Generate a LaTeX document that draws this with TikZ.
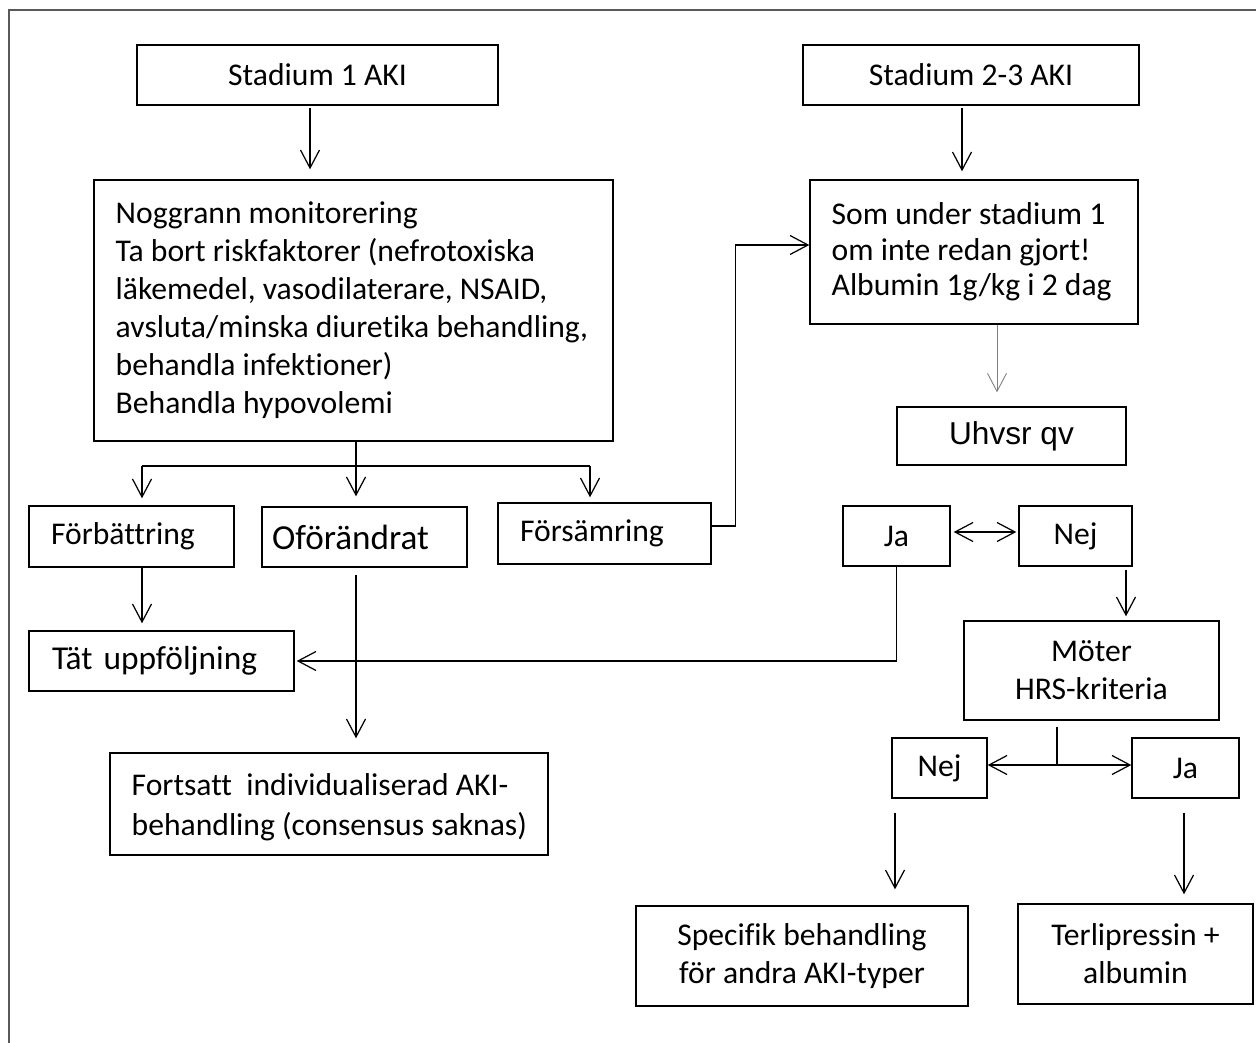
\documentclass[tikz,border=0pt]{standalone}
\usepackage{fontspec}
\setmainfont{Carlito}[Ligatures=NoCommon]
\newfontfamily\arialfont{Liberation Sans}
\usetikzlibrary{arrows.meta,positioning,calc}
\definecolor{framegray}{HTML}{595959}
\definecolor{thingray}{HTML}{7F7F7F}

\begin{document}
\begin{tikzpicture}[x=0.02cm, y=-0.02cm, font=\fontsize{18}{21.6}\selectfont, >={Straight Barb[length=0.36cm,width=0.38cm]}]
  \tikzstyle{box}=[draw,line width=0.8pt,inner sep=0pt,align=center]
  \tikzstyle{txt}=[inner sep=0pt,align=left,anchor=west]
  \tikzstyle{line}=[line width=0.7pt]
  \tikzstyle{arr}=[line,->]
  \tikzstyle{dbl}=[line,<->]
  \useasboundingbox (0,0) rectangle (1256,1043);
  \draw[framegray,line width=1.2pt] (9,1043) -- (9,10) -- (1256,10);
  % top row
  \node[box,minimum width=7.22cm,minimum height=1.2cm] (s1) at (317.5,75) {Stadium 1 AKI};
  \node[box,minimum width=6.72cm,minimum height=1.2cm] (s23) at (971,75) {Stadium 2-3 AKI};
  \node[box,minimum width=10.38cm,minimum height=5.22cm] (mon) at (353.5,310.5) {};
  \node[txt] (montext) at ([xshift=0.44cm]mon.west) {Noggrann monitorering\\Ta bort riskfaktorer (nefrotoxiska\\läkemedel, vasodilaterare, NSAID,\\avsluta/minska diuretika behandling,\\behandla infektioner)\\Behandla hypovolemi};
  \node[box,minimum width=6.56cm,minimum height=2.88cm] (som) at (974,252) {};
  \node[txt,font=\fontsize{18}{20.2}\selectfont] (somtext) at ([xshift=0.44cm]som.west) {Som under stadium 1\\om inte redan gjort!\\Albumin 1g/kg i 2 dag};
  \node[box,font=\arialfont\fontsize{18}{21.6}\selectfont,minimum width=4.58cm,minimum height=1.16cm] (uh) at (1011.5,436) {Uhvsr qv};
  % outcomes
  \node[box,align=left,inner xsep=0.44cm,text width=3.22cm,minimum height=1.22cm] (forb) at (131.5,536.5) {Förbättring};
  \node[box,align=left,inner xsep=0.2cm,text width=3.7cm,minimum height=1.2cm,font=\fontsize{20}{24}\selectfont] (ofor) at (364.5,537) {Oförändrat};
  \node[box,align=left,inner xsep=0.44cm,text width=3.38cm,minimum height=1.22cm] (fors) at (604.5,533.5) {Försämring};
  \node[box,minimum width=2.14cm,minimum height=1.2cm] (ja1) at (896.5,536) {Ja};
  \node[box,minimum width=2.26cm,minimum height=1.2cm] (nej1) at (1075.5,536) {Nej};
  \node[box,align=left,inner xsep=0.46cm,text width=4.38cm,minimum height=1.2cm,font=\fontsize{19}{23}\selectfont] (tat) at (161.5,661) {Tät uppföljning};
  \node[box,minimum width=5.1cm,minimum height=1.98cm] (hrs) at (1091.5,670.5) {Möter\\HRS-kriteria};
  \node[box,minimum width=8.76cm,minimum height=2.04cm] (fort) at (329,804) {};
  \node[txt,font=\fontsize{18}{22.7}\selectfont] (forttext) at ([xshift=0.44cm,yshift=-0.06cm]fort.west) {Fortsatt~ individualiserad AKI-\\behandling (consensus saknas)};
  \node[box,minimum width=1.9cm,minimum height=1.2cm] (nej2) at (939.5,768) {Nej};
  \node[box,minimum width=2.14cm,minimum height=1.2cm] (ja2) at (1185.5,768) {Ja};
  \node[box,minimum width=6.64cm,minimum height=2cm] (spec) at (802,956) {Specifik behandling\\för andra AKI-typer};
  \node[box,minimum width=4.7cm,minimum height=2cm] (terl) at (1135.5,954) {Terlipressin +\\albumin};
  % connectors
  \draw[arr,shorten <=0.04cm,shorten >=0.2cm] ([xshift=-0.15cm]s1.south) -- ([xshift=-0.15cm]s1.south |- mon.north);
  \draw[arr,shorten <=0.04cm,shorten >=0.16cm] ([xshift=-0.18cm]s23.south) -- ([xshift=-0.18cm]s23.south |- som.north);
  \draw[arr,thingray,line width=0.5pt,shorten >=0.28cm] ([xshift=0.46cm]som.south) -- ([xshift=0.46cm]som.south |- uh.north);
  \coordinate (br) at (356,466);
  \draw[arr,shorten >=0.2cm] ([xshift=0.05cm]mon.south) -- ([xshift=0.05cm]mon.south |- ofor.north);
  \draw[line] ([xshift=0.21cm]forb.north |- br) -- ([xshift=-0.29cm]fors.north |- br);
  \draw[arr,shorten >=0.14cm] ([xshift=0.21cm]forb.north |- br) -- ([xshift=0.21cm]forb.north);
  \draw[arr,shorten >=0.1cm] ([xshift=-0.29cm]fors.north |- br) -- ([xshift=-0.29cm]fors.north);
  \draw[arr] ([yshift=0.15cm]fors.east) -- ++(24,0) |- ([yshift=0.14cm]som.west);
  \draw[dbl,shorten <=0.06cm,shorten >=0.04cm] ([yshift=0.08cm]ja1.east) -- ([yshift=0.08cm]nej1.west);
  \draw[arr,shorten <=0.06cm,shorten >=0.08cm] ([xshift=1.01cm]nej1.south) -- ([xshift=1.01cm]nej1.south |- hrs.north);
  \draw[arr,shorten >=0.04cm] (ja1.south) |- (tat.east);
  \draw[arr,shorten >=0.14cm] ([xshift=0.21cm]forb.south) -- ([xshift=0.21cm]forb.south |- tat.north);
  \draw[arr,shorten <=0.14cm,shorten >=0.28cm] ([xshift=-0.17cm]ofor.south) -- ([xshift=-0.17cm]ofor.south |- fort.north);
  \coordinate (split) at ([yshift=0.06cm]nej2.east);
  \draw[line,shorten <=0.12cm] ([xshift=-0.69cm]hrs.south) -- ([xshift=-0.69cm]hrs.south |- split);
  \draw[dbl] (split) -- (split -| ja2.west);
  \draw[arr,shorten <=0.28cm,shorten >=0.32cm] ([xshift=-0.89cm]nej2.south) -- ([xshift=-0.89cm]nej2.south |- spec.north);
  \draw[arr,shorten <=0.28cm,shorten >=0.18cm] ([xshift=-0.03cm]ja2.south) -- ([xshift=-0.03cm]ja2.south |- terl.north);
\end{tikzpicture}
\end{document}
